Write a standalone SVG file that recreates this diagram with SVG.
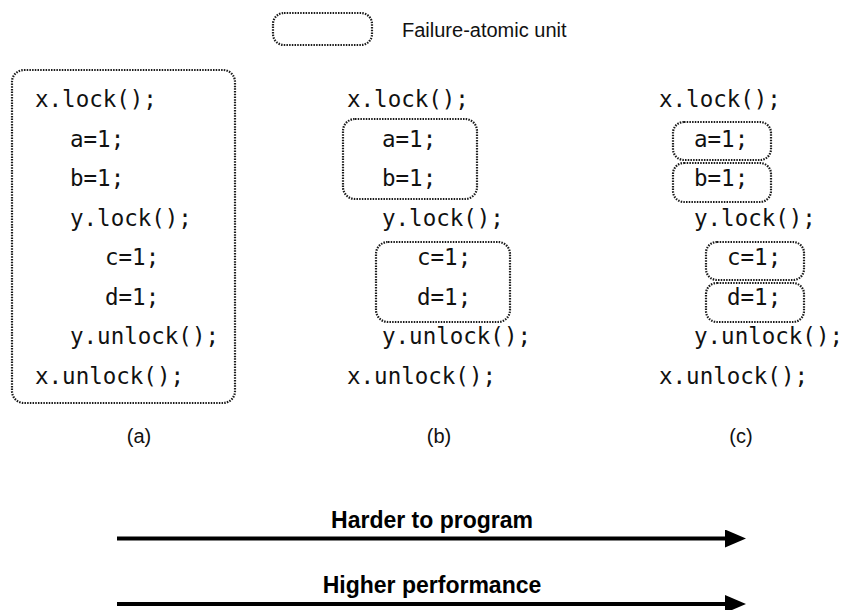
<svg xmlns="http://www.w3.org/2000/svg" width="856" height="610" viewBox="0 0 856 610">
<defs>
<style>
.code{font-family:"DejaVu Sans Mono","Liberation Mono",monospace;font-size:22.5px;fill:#111}
.unit{fill:none;stroke:#1a1a1a;stroke-width:2.2;stroke-dasharray:1.5 1.2}
.lbl{font-family:"Liberation Sans",Arial,sans-serif;font-size:20px;fill:#111;text-anchor:middle}
.leg{font-family:"Liberation Sans",Arial,sans-serif;font-size:20px;fill:#111}
.axis{font-family:"Liberation Sans",Arial,sans-serif;font-size:23px;font-weight:bold;fill:#000;text-anchor:middle}
.arr{stroke:#000;stroke-width:4;fill:none}
</style>
<marker id="ah" markerUnits="userSpaceOnUse" markerWidth="22" markerHeight="20" refX="0" refY="9" orient="auto">
<path d="M0,0 L21,9 L0,18 Z" fill="#000"/>
</marker>
</defs>
<rect width="856" height="610" fill="#fff"/>

<g id="legend">
<rect class="unit" x="273" y="13" width="99" height="32" rx="11"/>
<text class="leg" x="402" y="37">Failure-atomic unit</text>
</g>

<g id="col-a">
<rect class="unit" x="12" y="70" width="223" height="333" rx="12"/>
<text class="code" x="35" y="107">x.lock();</text>
<text class="code" x="70" y="146.5">a=1;</text>
<text class="code" x="70" y="186">b=1;</text>
<text class="code" x="70" y="225.5">y.lock();</text>
<text class="code" x="105" y="265">c=1;</text>
<text class="code" x="105" y="304.5">d=1;</text>
<text class="code" x="70" y="344">y.unlock();</text>
<text class="code" x="35" y="383.5">x.unlock();</text>
<text class="lbl" x="139" y="443">(a)</text>
</g>

<g id="col-b">
<rect class="unit" x="343" y="119" width="134" height="80" rx="12"/>
<rect class="unit" x="376" y="242" width="134" height="80" rx="12"/>
<text class="code" x="347" y="107">x.lock();</text>
<text class="code" x="382" y="146.5">a=1;</text>
<text class="code" x="382" y="186">b=1;</text>
<text class="code" x="382" y="225.5">y.lock();</text>
<text class="code" x="417" y="265">c=1;</text>
<text class="code" x="417" y="304.5">d=1;</text>
<text class="code" x="382" y="344">y.unlock();</text>
<text class="code" x="347" y="383.5">x.unlock();</text>
<text class="lbl" x="439" y="443">(b)</text>
</g>

<g id="col-c">
<rect class="unit" x="673" y="122" width="98" height="38" rx="11"/>
<rect class="unit" x="673" y="163" width="98" height="39" rx="11"/>
<rect class="unit" x="706" y="242" width="98" height="38" rx="11"/>
<rect class="unit" x="706" y="283" width="98" height="39" rx="11"/>
<text class="code" x="659" y="107">x.lock();</text>
<text class="code" x="694" y="146.5">a=1;</text>
<text class="code" x="694" y="186">b=1;</text>
<text class="code" x="694" y="225.5">y.lock();</text>
<text class="code" x="727" y="265">c=1;</text>
<text class="code" x="727" y="304.5">d=1;</text>
<text class="code" x="694" y="344">y.unlock();</text>
<text class="code" x="659" y="383.5">x.unlock();</text>
<text class="lbl" x="741" y="443">(c)</text>
</g>

<g id="connectors">
<line class="arr" x1="117" y1="538.5" x2="725" y2="538.5" marker-end="url(#ah)"/>
<line class="arr" x1="117" y1="604" x2="725" y2="604" marker-end="url(#ah)"/>
</g>

<g id="axis-labels">
<text class="axis" x="432" y="528">Harder to program</text>
<text class="axis" x="432" y="592.5">Higher performance</text>
</g>
</svg>
